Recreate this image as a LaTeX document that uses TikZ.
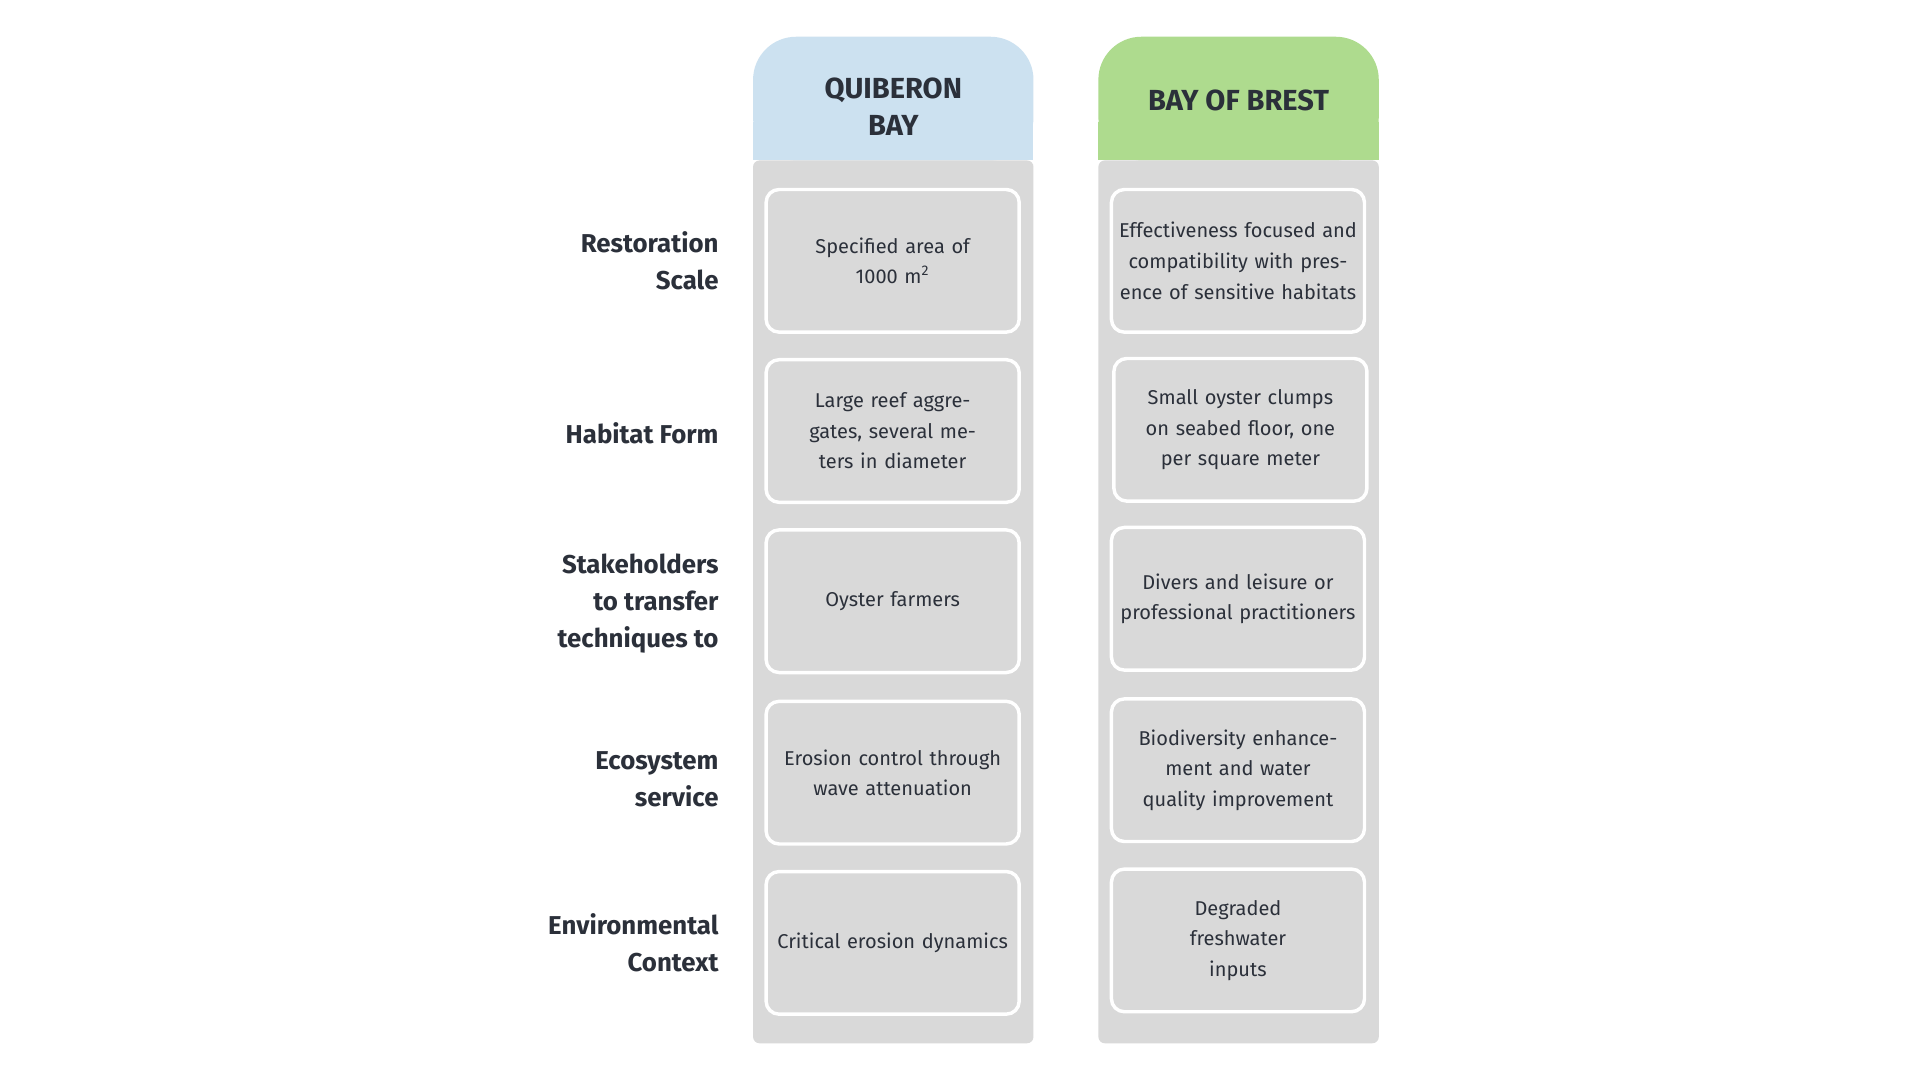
\documentclass[tikz,border=0pt]{standalone}
\usepackage{fontspec}
\setmainfont{Fira Sans}
\usetikzlibrary{positioning}
\definecolor{quiblue}{HTML}{CCE1F0}
\definecolor{brestgreen}{HTML}{AEDB8E}
\definecolor{colgray}{HTML}{D9D9D9}
\definecolor{inktext}{HTML}{2B303A}
\tikzset{
  cellbox/.style={draw=white, line width=1.6pt, rounded corners=6pt, fill=colgray,
    minimum width=4.08cm, minimum height=2.33cm, text width=3.9cm, align=center,
    font=\fontsize{9.3}{14.2}\selectfont\color{inktext}},
  rowlabel/.style={anchor=east, align=right, text=inktext,
    font=\fontsize{12}{17.2}\selectfont\bfseries},
  headtext/.style={align=center, text=inktext, font=\fontsize{13.5}{17.2}\selectfont\bfseries}
}
\begin{document}
\begin{tikzpicture}[x=0.02cm, y=-0.02cm]
		\useasboundingbox[fill=white] (0,0) rectangle (1568,882);
		
		% Column backgrounds
		\fill[quiblue, rounded corners=20pt] (615,131) -- (615,30) -- (844,30) -- (844,131) -- cycle;
		\fill[brestgreen, rounded corners=20pt] (897,131) -- (897,30) -- (1126,30) -- (1126,131) -- cycle;
		\fill[quiblue] (615,100) rectangle (844,131);
		\fill[brestgreen] (897,100) rectangle (1126,131);
		\fill[colgray, rounded corners=3pt] (615,131) rectangle (844,852);
		\fill[colgray, rounded corners=3pt] (897,131) rectangle (1126,852);
		
		% Headers
		\node[headtext] (qhead) at (729.5,87) {QUIBERON\\BAY};
		\node[headtext] (bhead) at (1011.5,82) {BAY OF BREST};
		
		% Quiberon Bay cells
		\node[cellbox] (q1) at (729,213) {Specified area of\\1000 m\textsuperscript{2}};
		\node[cellbox] (q2) at (729,352) {Large reef aggregates, several meters in diameter};
		\node[cellbox] (q3) at (729,491) {Oyster farmers};
		\node[cellbox] (q4) at (729,631) {Erosion control through wave attenuation};
		\node[cellbox] (q5) at (729,770) {Critical erosion dynamics};
		
		% Bay of Brest cells
		\node[cellbox] (b1) at (1011,213) {Effectiveness focused and compatibility with presence of sensitive habitats};
		\node[cellbox] (b2) at (1013,351) {Small oyster clumps on seabed floor, one per square meter};
		\node[cellbox] (b3) at (1011,489) {Divers and leisure or professional practitioners};
		\node[cellbox] (b4) at (1011,629) {Biodiversity enhancement and water quality improvement};
		\node[cellbox] (b5) at (1011,768) {Degraded\\freshwater\\inputs};
		
		% Row labels
		\node[rowlabel] (l1) at (593,213) {Restoration\\Scale};
		\node[rowlabel] (l2) at (593,354) {Habitat Form};
		\node[rowlabel] (l3) at (593,493) {Stakeholders\\to transfer\\techniques to};
		\node[rowlabel] (l4) at (593,636) {Ecosystem\\service};
		\node[rowlabel] (l5) at (593,770) {Environmental\\Context};
	\end{tikzpicture}
\end{document}
